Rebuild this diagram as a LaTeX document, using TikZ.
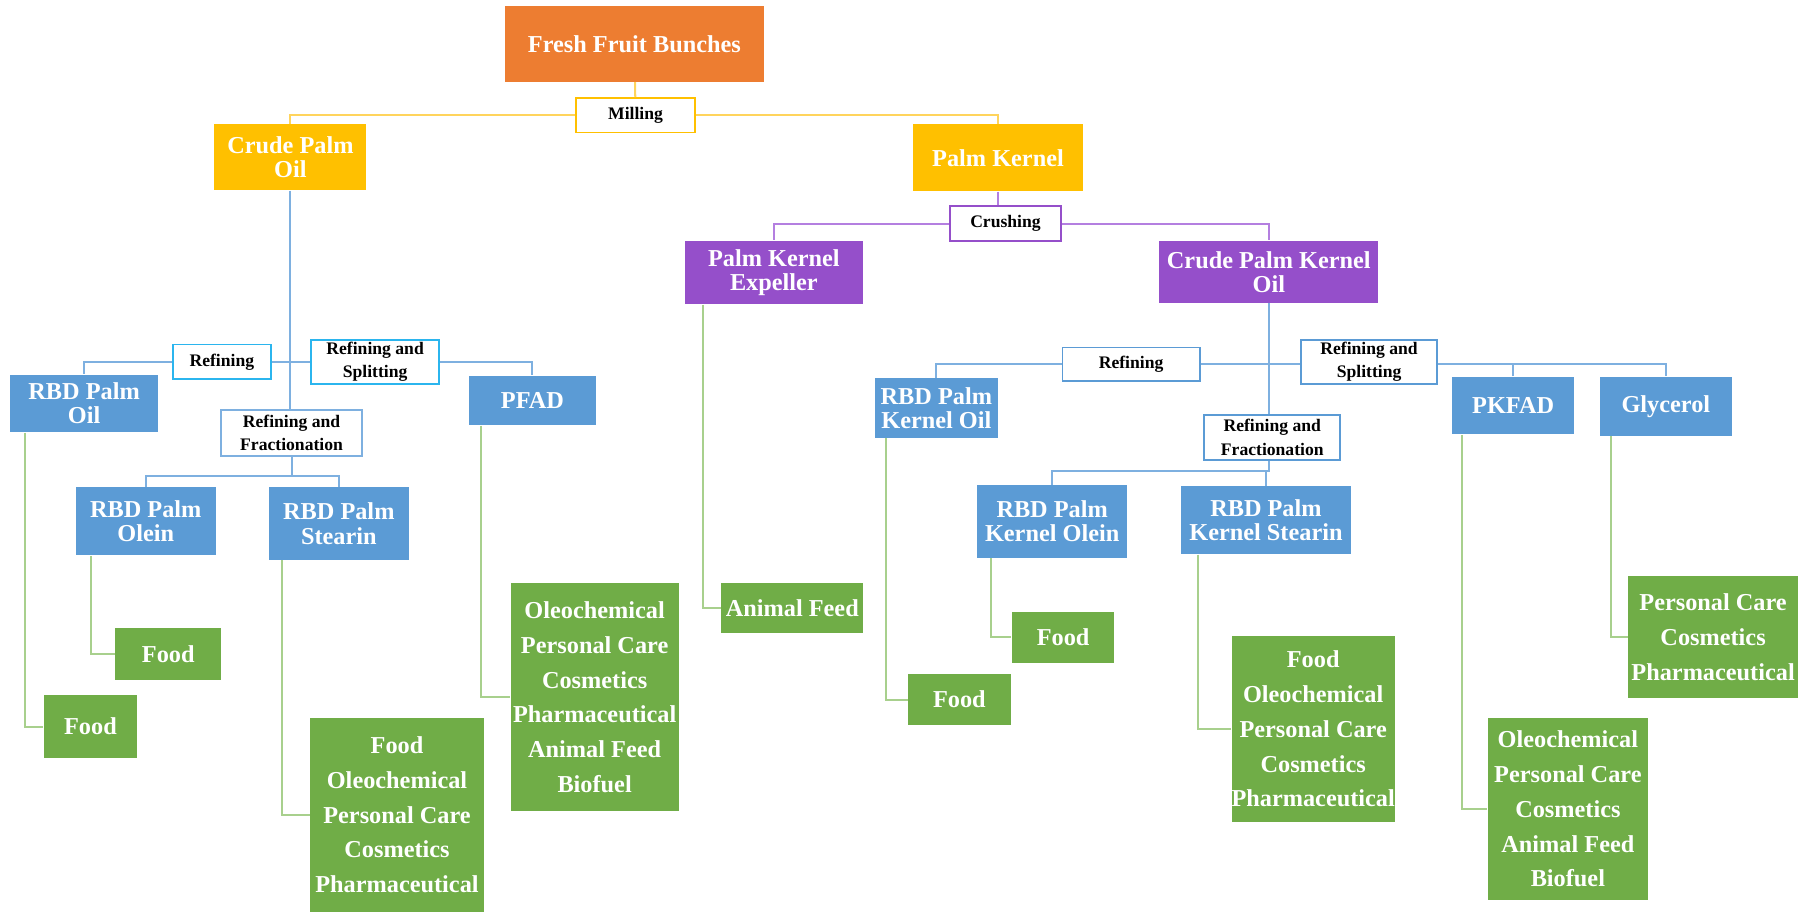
\documentclass[tikz,border=0pt]{standalone}
\usepackage{fontspec}
\setmainfont{Liberation Serif}
\usetikzlibrary{positioning, calc}

\definecolor{ffbOrange}{HTML}{ED7D31}
\definecolor{oilYellow}{HTML}{FFC000}
\definecolor{kernelPurple}{HTML}{954FCA}
\definecolor{rbdBlue}{HTML}{5B9BD5}
\definecolor{useGreen}{HTML}{70AD47}
\definecolor{lnYellow}{HTML}{FFD45C}
\definecolor{lnPurple}{HTML}{B47FE0}
\definecolor{lnBlue}{HTML}{7EB0E0}
\definecolor{lnGreen}{HTML}{A8D08D}
\definecolor{stepCyan}{HTML}{2BB5EE}

\begin{document}
\begin{tikzpicture}[x=0.02cm, y=-0.02cm,
		sz/.style 2 args={minimum width=#1*0.02cm, minimum height=#2*0.02cm},
		prod/.style={rectangle, inner sep=0pt, text=white, align=center,
			font=\bfseries\fontsize{12}{12}\selectfont},
		use/.style={prod, fill=useGreen,
			font=\bfseries\fontsize{12}{17.2}\selectfont},
		proc/.style={rectangle, inner sep=0pt, fill=white, line width=0.9pt,
			align=center, font=\bfseries\fontsize{8.7}{11.4}\selectfont},
		link/.style={line width=1pt}]
		\useasboundingbox (0,0) rectangle (1568,791);
		
		% palm fruit
		\node[prod, fill=ffbOrange, sz={225}{66}] (ffb) at (550.5,38) {Fresh Fruit Bunches};
		\node[proc, draw=oilYellow, sz={103}{30}] (milling) at (551.5,100) {Milling};
		\node[prod, fill=oilYellow, sz={132}{57}] (cpo) at (252,136.5) {Crude Palm\\Oil};
		\node[prod, fill=oilYellow, sz={148}{58}] (pk) at (866,137) {Palm Kernel};
		\node[proc, draw=kernelPurple, sz={97}{30}] (crushing) at (872.5,194) {Crushing};
		\node[prod, fill=kernelPurple, sz={155}{55}] (pke) at (671.5,236.5) {Palm Kernel\\Expeller};
		\node[prod, fill=kernelPurple, sz={190}{54}] (cpko) at (1101,236) {Crude Palm Kernel\\Oil};
		
		% palm oil side
		\node[proc, draw=stepCyan, sz={85}{30}] (refL) at (192.5,314) {Refining};
		\node[proc, draw=stepCyan, sz={111}{38}] (splitL) at (325.5,314) {Refining and\\Splitting};
		\node[proc, draw=lnBlue, sz={122}{40}] (fracL) at (253,376) {Refining and\\Fractionation};
		\node[prod, fill=rbdBlue, sz={128}{50}] (rbdpo) at (73,350) {RBD Palm\\Oil};
		\node[prod, fill=rbdBlue, sz={110}{43}] (pfad) at (462,347.5) {PFAD};
		\node[prod, fill=rbdBlue, sz={121}{59}] (olein) at (126.5,452.5) {RBD Palm\\Olein};
		\node[prod, fill=rbdBlue, sz={122}{63}] (stearin) at (294,454.5) {RBD Palm\\Stearin};
		\node[use, sz={81}{55}] (foodPO) at (78.5,630.5) {Food};
		\node[use, sz={92}{45}] (foodOlein) at (146,567.5) {Food};
		\node[use, sz={151}{168}] (useStearin) at (344.5,707) {Food\\Oleochemical\\Personal Care\\Cosmetics\\Pharmaceutical};
		\node[use, sz={146}{198}] (usePFAD) at (516,605) {Oleochemical\\Personal Care\\Cosmetics\\Pharmaceutical\\Animal Feed\\Biofuel};
		\node[use, sz={123}{43}] (feed) at (687.5,527.5) {Animal Feed};
		
		% palm kernel side
		\node[proc, draw=rbdBlue, sz={119}{29}] (refR) at (981.5,316) {Refining};
		\node[proc, draw=rbdBlue, sz={118}{38}] (splitR) at (1188,314) {Refining and\\Splitting};
		\node[proc, draw=rbdBlue, sz={118}{39}] (fracR) at (1104,379.5) {Refining and\\Fractionation};
		\node[prod, fill=rbdBlue, sz={107}{52}] (rbdpko) at (812.5,354) {RBD Palm\\Kernel Oil};
		\node[prod, fill=rbdBlue, sz={106}{50}] (pkfad) at (1313,352) {PKFAD};
		\node[prod, fill=rbdBlue, sz={115}{51}] (glycerol) at (1445.5,352.5) {Glycerol};
		\node[prod, fill=rbdBlue, sz={130}{63}] (pkolein) at (913,452.5) {RBD Palm\\Kernel Olein};
		\node[prod, fill=rbdBlue, sz={147}{59}] (pkstearin) at (1098.5,451.5) {RBD Palm\\Kernel Stearin};
		\node[use, sz={89}{44}] (foodPKO) at (832.5,607) {Food};
		\node[use, sz={89}{44}] (foodPKOlein) at (922.5,553) {Food};
		\node[use, sz={141}{161}] (usePKStearin) at (1139.5,632.5) {Food\\Oleochemical\\Personal Care\\Cosmetics\\Pharmaceutical};
		\node[use, sz={147}{106}] (useGlycerol) at (1486.5,553) {Personal Care\\Cosmetics\\Pharmaceutical};
		\node[use, sz={139}{158}] (usePKFAD) at (1360.5,702) {Oleochemical\\Personal Care\\Cosmetics\\Animal Feed\\Biofuel};
		
		\coordinate (forkL) at (253,413);
		\coordinate (forkR) at (1101,409);
		
		% milling and crushing
		\draw[link, lnYellow] (ffb) -- (milling);
		\draw[link, lnYellow] (milling.west) -| (cpo.north);
		\draw[link, lnYellow] (milling.east) -| (pk.north);
		\draw[link, lnPurple] (pk.south) -- (pk.south |- crushing.north);
		\draw[link, lnPurple] (crushing.west) -| (pke.north);
		\draw[link, lnPurple] (crushing.east) -| (cpko.north);
		
		% refining lines
		\draw[link, lnBlue] (cpo.south) -- (cpo.south |- fracL.north);
		\draw[link, lnBlue] (refL.west) -| (rbdpo.north);
		\draw[link, lnBlue] (refL.east) -- (refL.east -| splitL.west);
		\draw[link, lnBlue] (splitL.east) -| (pfad.north);
		\draw[link, lnBlue] (fracL.south) -- (forkL) -| (olein.north);
		\draw[link, lnBlue] (forkL) -| (stearin.north);
		\draw[link, lnBlue] (cpko.south) -- (cpko.south |- fracR.north);
		\draw[link, lnBlue] (refR.west) -| (rbdpko.north);
		\draw[link, lnBlue] (refR.east) -- (refR.east -| splitR.west);
		\draw[link, lnBlue] (refR.east -| splitR.east) -| (glycerol.north);
		\draw[link, lnBlue] (pkfad.north) -- (pkfad.north |- refR.east);
		\draw[link, lnBlue] (forkR |- fracR.south) -- (forkR) -| (pkolein.north);
		\draw[link, lnBlue] (forkR) -| (pkstearin.north);
		
		% uses
		\draw[link, lnGreen] ($(rbdpo.south west)+(13,0)$) |- (foodPO.west);
		\draw[link, lnGreen] ($(olein.south west)+(13,0)$) |- (foodOlein.west);
		\draw[link, lnGreen] ($(stearin.south west)+(12,0)$) |- (useStearin.west);
		\draw[link, lnGreen] ($(pfad.south west)+(11,0)$) |- (usePFAD.west);
		\draw[link, lnGreen] ($(pke.south west)+(16,0)$) |- (feed.west);
		\draw[link, lnGreen] ($(rbdpko.south west)+(10,0)$) |- (foodPKO.west);
		\draw[link, lnGreen] ($(pkolein.south west)+(12,0)$) |- (foodPKOlein.west);
		\draw[link, lnGreen] ($(pkstearin.south west)+(15,0)$) |- (usePKStearin.west);
		\draw[link, lnGreen] ($(pkfad.south west)+(9,0)$) |- (usePKFAD.west);
		\draw[link, lnGreen] ($(glycerol.south west)+(10,0)$) |- (useGlycerol.west);
	\end{tikzpicture}
\end{document}
